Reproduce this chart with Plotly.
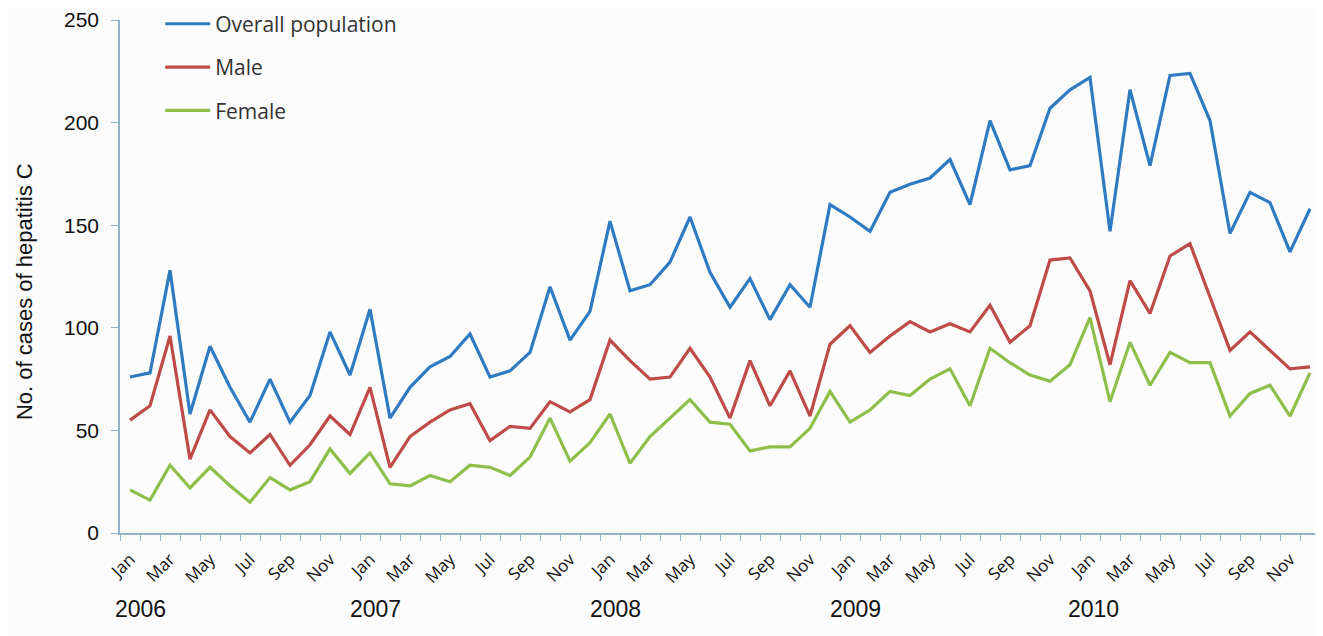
import plotly.graph_objects as go

months = ["Jan", "Feb", "Mar", "Apr", "May", "Jun", "Jul", "Aug", "Sep", "Oct", "Nov", "Dec"]
years = ["2006", "2007", "2008", "2009", "2010"]

overall = [
    76, 78, 128, 58, 91, 71, 54, 75, 54, 67, 98, 77,
    109, 56, 71, 81, 86, 97, 76, 79, 88, 120, 94, 108,
    152, 118, 121, 132, 154, 127, 110, 124, 104, 121, 110, 160,
    154, 147, 166, 170, 173, 182, 160, 201, 177, 179, 207, 216,
    222, 147, 216, 179, 223, 224, 201, 146, 166, 161, 137, 158,
]
male = [
    55, 62, 96, 36, 60, 47, 39, 48, 33, 43, 57, 48,
    71, 32, 47, 54, 60, 63, 45, 52, 51, 64, 59, 65,
    94, 84, 75, 76, 90, 76, 56, 84, 62, 79, 57, 92,
    101, 88, 96, 103, 98, 102, 98, 111, 93, 101, 133, 134,
    118, 82, 123, 107, 135, 141, 115, 89, 98, 89, 80, 81,
]
female = [
    21, 16, 33, 22, 32, 23, 15, 27, 21, 25, 41, 29,
    39, 24, 23, 28, 25, 33, 32, 28, 37, 56, 35, 44,
    58, 34, 47, 56, 65, 54, 53, 40, 42, 42, 51, 69,
    54, 60, 69, 67, 75, 80, 62, 90, 83, 77, 74, 82,
    105, 64, 93, 72, 88, 83, 83, 57, 68, 72, 57, 78,
]

labels = [m for y in years for m in months]
idx = list(range(len(labels)))

series = [
    ("Overall population", overall, "#2f7bc2"),
    ("Male", male, "#bf4b48"),
    ("Female", female, "#8dbf4a"),
]

fig = go.Figure()
for name, vals, col in series:
    fig.add_trace(go.Scatter(
        x=idx, y=vals, mode="lines", name=name, legendgroup=name,
        line=dict(color=col, width=3.2),
    ))

axis_col = "#8fb3c8"
tickvals = [i for i in idx if i % 2 == 0]
ticktext = [labels[i] for i in tickvals]

fig.update_layout(
    width=1315, height=628,
    margin=dict(l=112, r=3, t=12, b=103, autoexpand=False),
    paper_bgcolor="#fcfcfd", plot_bgcolor="#fcfcfd",
    showlegend=True,
    legend=dict(x=0.0335, y=1.032, xanchor="left", yanchor="top",
                itemwidth=45,
                bgcolor="rgba(0,0,0,0)", tracegroupgap=13,
                font=dict(family="Open Sans", size=21, color="#333333")),
    xaxis=dict(
        range=[-0.5, 59.5], showgrid=False, zeroline=False,
        showline=True, linecolor=axis_col, linewidth=1.5,
        tickmode="array", tickvals=tickvals, ticktext=ticktext,
        ticks="", tickangle=-45, ticklabelstandoff=8,
        tickfont=dict(family="Open Sans", size=17, color="#111111"),
        minor=dict(tick0=-0.5, dtick=1, ticks="outside", ticklen=6,
                   tickcolor=axis_col, tickwidth=1.2, showgrid=False),
    ),
    yaxis=dict(
        range=[0, 250], dtick=50, showgrid=False, zeroline=False,
        showline=True, linecolor=axis_col, linewidth=1.5,
        ticks="outside", ticklen=7, tickcolor=axis_col, tickwidth=1.2,
        ticklabelstandoff=8, ticklabeloverflow="allow",
        tickfont=dict(family="Liberation Sans", size=21, color="#111111"),
    ),
)

fig.add_annotation(x=-0.079, y=0.47, xref="paper", yref="paper",
                   text="No. of cases of hepatitis C", textangle=-90,
                   showarrow=False, xanchor="center", yanchor="middle",
                   font=dict(family="Liberation Sans", size=22, color="#111111"))

year_pos = [0.5, 12.25, 24.25, 36.25, 48.15]
for y, p in zip(years, year_pos):
    fig.add_annotation(x=p, y=-0.148, xref="x", yref="paper", text=y,
                       showarrow=False, yanchor="middle",
                       font=dict(family="Liberation Sans", size=23, color="#111111"))

fig.write_html("out.html")
